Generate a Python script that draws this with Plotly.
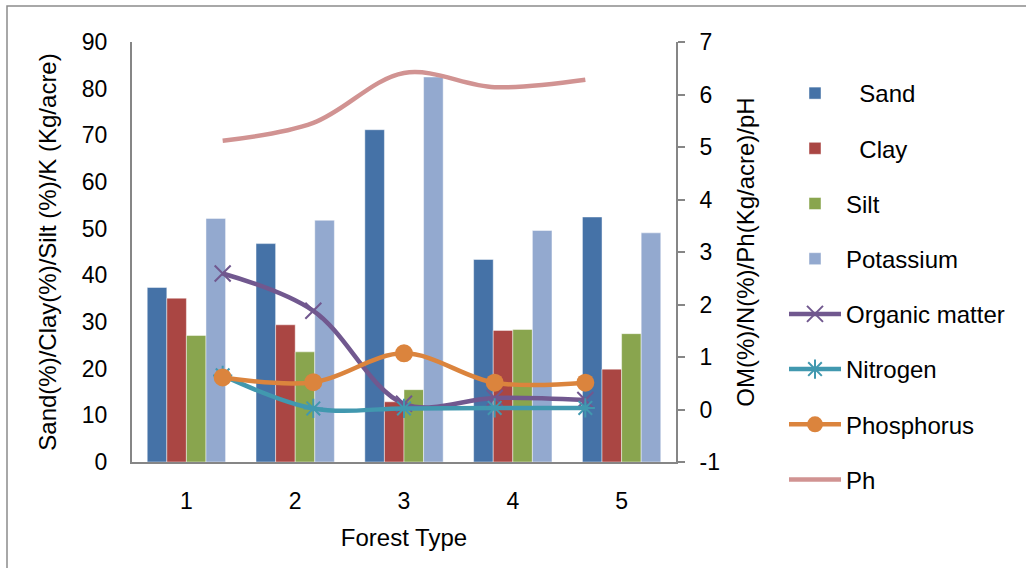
import plotly.graph_objects as go

# ---- data ----
forest_type = [1, 2, 3, 4, 5]
sand = [37.4, 46.8, 71.2, 43.4, 52.5]
clay = [35.1, 29.4, 12.9, 28.2, 19.9]
silt = [27.1, 23.6, 15.5, 28.4, 27.5]
potassium = [52.2, 51.8, 82.5, 49.6, 49.1]
organic_matter = [2.59, 1.88, 0.11, 0.22, 0.18]
nitrogen = [0.65, 0.02, 0.02, 0.03, 0.03]
phosphorus = [0.61, 0.52, 1.07, 0.51, 0.51]
ph = [5.12, 5.46, 6.41, 6.14, 6.28]

left_ticks = list(range(0, 91, 10))
right_ticks = list(range(-1, 8))
right_tick_text = [str(v) for v in right_ticks]

FONT = "Liberation Sans"
AXIS_GRAY = "#868686"

fig = go.Figure()

bar_specs = [
    ("\u00a0\u00a0Sand", sand, "#4572A7"),
    ("\u00a0\u00a0Clay", clay, "#AA4643"),
    ("Silt", silt, "#89A54E"),
    ("Potassium", potassium, "#93A9CF"),
]
for i, (name, vals, col) in enumerate(bar_specs):
    fig.add_trace(go.Bar(
        x=forest_type, y=vals, name=name, marker_color=col,
        marker_line=dict(color="rgba(255,255,255,0.45)", width=1),
        legendgroup=f"g{i}", xaxis="x", yaxis="y",
    ))

line_specs = [
    ("Organic matter", organic_matter, "#71588F", dict(symbol="x-thin-open", size=16, line=dict(width=2, color="#71588F"))),
    ("Nitrogen", nitrogen, "#4198AF", dict(symbol="asterisk-open", size=16, line=dict(width=2, color="#4198AF"))),
    ("Phosphorus", phosphorus, "#DB843D", dict(symbol="circle", size=18, color="#DB843D")),
    ("Ph", ph, "#D19392", None),
]
for j, (name, vals, col, mk) in enumerate(line_specs):
    kw = dict(mode="lines+markers", marker=mk) if mk else dict(mode="lines")
    fig.add_trace(go.Scatter(
        x=forest_type, y=vals, name=name,
        line=dict(color=col, width=4.5, shape="spline", smoothing=1.0),
        legendgroup=f"h{j}", xaxis="x2", yaxis="y2", **kw,
    ))

fig.update_layout(
    width=1026, height=568,
    margin=dict(l=132, r=350, t=42, b=106),
    paper_bgcolor="white", plot_bgcolor="white",
    font=dict(family=FONT, size=23, color="black"),
    barmode="group", bargap=0.28, bargroupgap=0,
    xaxis=dict(
        range=[0.5, 5.5], tickmode="array", tickvals=forest_type,
        ticktext=[str(v) for v in forest_type],
        showline=True, linecolor=AXIS_GRAY, linewidth=2, ticks="",
        showgrid=False, zeroline=False, ticklabelstandoff=17,
        title=dict(text="Forest Type", standoff=17, font=dict(size=24)),
        tickfont=dict(size=23),
    ),
    xaxis2=dict(range=[0, 6], overlaying="x", visible=False),
    yaxis=dict(
        range=[0, 90], tickmode="array", tickvals=left_ticks,
        showline=True, linecolor=AXIS_GRAY, linewidth=2, ticks="",
        showgrid=False, zeroline=False, ticklabelstandoff=18,
        title=dict(text="Sand(%)/Clay(%)/Silt (%)/K (Kg/acre)", standoff=18, font=dict(size=24)),
        tickfont=dict(size=23),
    ),
    yaxis2=dict(
        range=[-1, 7], tickmode="array", tickvals=right_ticks, ticktext=right_tick_text,
        overlaying="y", side="right",
        showline=True, linecolor=AXIS_GRAY, linewidth=2,
        ticks="outside", ticklen=7, tickwidth=2, tickcolor=AXIS_GRAY,
        showgrid=False, zeroline=False, ticklabelstandoff=10,
        title=dict(text="OM(%)/N(%)/Ph(Kg/acre)/pH", standoff=18, font=dict(size=24)),
        tickfont=dict(size=23),
    ),
    legend=dict(
        x=(784 - 132) / 544, xanchor="left",
        y=(462 - 71) / 420, yanchor="top",
        font=dict(size=24), tracegroupgap=21, itemwidth=52,
        bgcolor="rgba(0,0,0,0)", maxheight=540,
    ),
    showlegend=True,
)

fig.add_shape(
    type="rect", xref="paper", yref="paper",
    x0=(7 - 132) / 544, x1=(1040 - 132) / 544,
    y0=(462 - 580) / 420, y1=(462 - 6) / 420,
    line=dict(color="#8c8c8c", width=1.5), fillcolor="rgba(0,0,0,0)", layer="below",
)

fig.write_html(
    "out.html",
    config={"displayModeBar": False},
    post_script="document.body.style.margin='0';",
)
